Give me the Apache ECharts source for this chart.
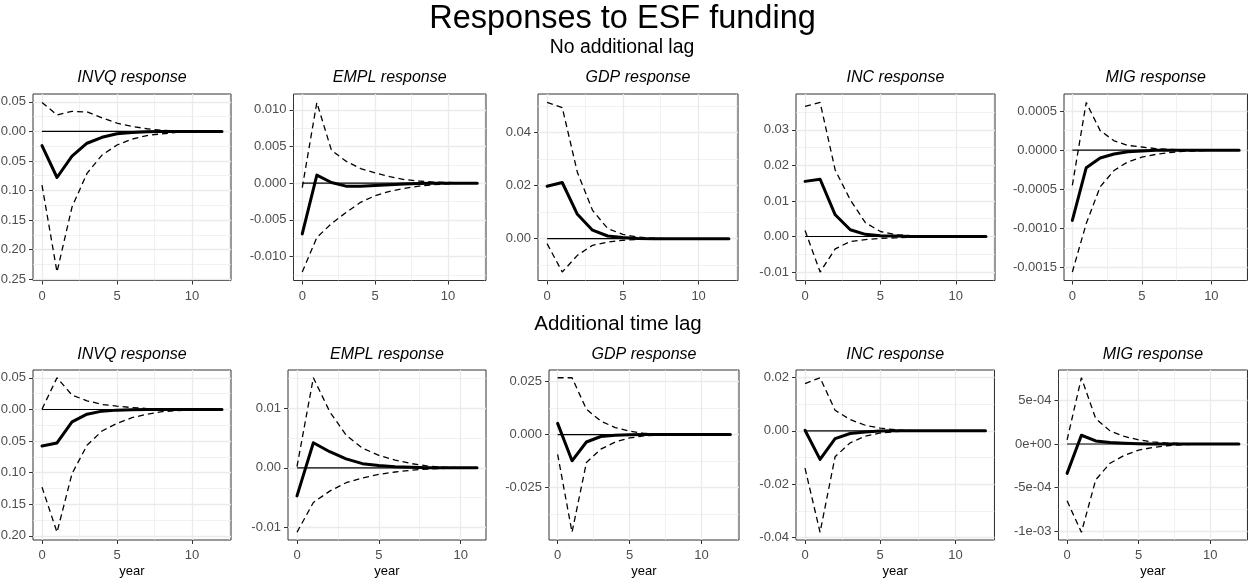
<!DOCTYPE html>
<html><head><meta charset="utf-8">
<script src="https://cdn.jsdelivr.net/npm/echarts@6/dist/echarts.min.js"></script>
<style>html,body{margin:0;padding:0;background:#fff}#c{width:1248px;height:581px}</style>
</head><body><div id="c"></div><script>
// ---------- data ----------
const years12 = [0,1,2,3,4,5,6,7,8,9,10,11,12];
const years11 = [0,1,2,3,4,5,6,7,8,9,10,11];
const xTicks = [0,5,10];

// No additional lag
const invqIrfA = [-0.024,-0.078,-0.042,-0.020,-0.010,-0.004,-0.0017,-0.0007,-0.0003,-0.0001,0,0,0];
const invqUpA  = [0.049,0.028,0.034,0.033,0.023,0.014,0.0085,0.0045,0.0017,0.0007,0.0003,0.0001,0];
const invqLoA  = [-0.091,-0.238,-0.128,-0.071,-0.040,-0.023,-0.013,-0.007,-0.004,-0.0017,-0.0007,-0.0003,-0.0001];
const emplIrfA = [-0.0069,0.0011,0.0001,-0.0004,-0.0004,-0.0003,-0.0002,-0.0001,-0.00005,0,0,0,0];
const emplUpA  = [-0.0006,0.0110,0.0045,0.0030,0.0020,0.0014,0.0009,0.0005,0.0003,0.00015,0.0001,0.00005,0];
const emplLoA  = [-0.0121,-0.0074,-0.0055,-0.0040,-0.0026,-0.0017,-0.0011,-0.0007,-0.0004,-0.0002,-0.0001,0,0];
const gdpIrfA  = [0.0198,0.0212,0.0092,0.0032,0.0010,0.0004,0.0001,0,0,0,0,0,0];
const gdpUpA   = [0.0514,0.0495,0.0250,0.0107,0.0038,0.0016,0.0006,0.0002,0,0,0,0,0];
const gdpLoA   = [-0.0019,-0.0126,-0.0063,-0.0025,-0.0013,-0.0006,-0.0003,-0.0001,0,0,0,0,0];
const incIrfA  = [0.0155,0.0161,0.0061,0.0019,0.0006,0.0002,0.0001,0,0,0,0,0,0];
const incUpA   = [0.0366,0.0377,0.0187,0.0103,0.0039,0.0014,0.0005,0.0002,0,0,0,0,0];
const incLoA   = [0.0017,-0.0100,-0.0035,-0.0014,-0.0009,-0.0005,-0.0004,-0.0002,0,0,0,0,0];
const migIrfA  = [-0.00090,-0.000225,-0.00010,-0.00005,-0.00002,-0.00001,0,0,0,0,0,0,0];
const migUpA   = [-0.00045,0.00061,0.00025,0.00012,0.00006,0.00004,0.00002,0.00001,0,0,0,0,0];
const migLoA   = [-0.00156,-0.00094,-0.00047,-0.00026,-0.00015,-0.00009,-0.000055,-0.00003,-0.000015,-0.00001,0,0,0];

// Additional time lag
const invqIrfB = [-0.0577,-0.053,-0.0196,-0.0074,-0.0026,-0.001,-0.0004,-0.0001,0,0,0,0,0];
const invqUpB  = [0.0005,0.0503,0.0228,0.0138,0.008,0.0053,0.003,0.0015,0.0008,0.0004,0.0002,0.0001,0];
const invqLoB  = [-0.1229,-0.1944,-0.1017,-0.0567,-0.034,-0.022,-0.013,-0.0074,-0.0035,-0.0017,-0.0008,-0.0004,-0.0002];
const emplIrfB = [-0.0047,0.0042,0.0027,0.0015,0.0007,0.0004,0.0002,0.0001,0,0,0,0];
const emplUpB  = [0.0002,0.0151,0.0094,0.0055,0.0033,0.0021,0.0013,0.0007,0.0003,0.0001,0,0];
const emplLoB  = [-0.0108,-0.0058,-0.0039,-0.0025,-0.0017,-0.0011,-0.0007,-0.0004,-0.0002,-0.0001,0,0];
const gdpIrfB  = [0.0053,-0.0124,-0.0035,-0.0009,-0.0003,-0.0001,0,0,0,0,0,0,0];
const gdpUpB   = [0.0269,0.0269,0.012,0.0064,0.0033,0.0016,0.0006,0.0002,0,0,0,0,0];
const gdpLoB   = [-0.0093,-0.0462,-0.0132,-0.0069,-0.0035,-0.0016,-0.0006,-0.0002,0,0,0,0,0];
const incIrfB  = [0.0002,-0.0107,-0.0029,-0.001,-0.0004,-0.0001,0,0,0,0,0,0,0];
const incUpB   = [0.0177,0.0199,0.0077,0.0042,0.0021,0.001,0.0004,0.0001,0,0,0,0,0];
const incLoB   = [-0.014,-0.038,-0.0097,-0.0045,-0.002,-0.0008,-0.0003,-0.0001,0,0,0,0,0];
const migIrfB  = [-0.000336,0.0001,0.000035,0.000016,0.000008,0.000003,0,0,0,0,0,0,0];
const migUpB   = [0.000047,0.000758,0.00029,0.00015,0.000086,0.000047,0.000023,0.00001,0.000005,0,0,0,0];
const migLoB   = [-0.00065,-0.00101,-0.00041,-0.00022,-0.00013,-0.00007,-0.00004,-0.00002,-0.00001,0,0,0,0];

// tick values and labels
const invqTicksA = [-0.25,-0.20,-0.15,-0.10,-0.05,0,0.05];
const invqLabelsA = ['-0.25','-0.20','-0.15','-0.10','-0.05','0.00','0.05'];
const emplTicksA = [-0.010,-0.005,0,0.005,0.010];
const emplLabelsA = ['-0.010','-0.005','0.000','0.005','0.010'];
const gdpTicksA = [0,0.02,0.04];
const gdpLabelsA = ['0.00','0.02','0.04'];
const incTicksA = [-0.01,0,0.01,0.02,0.03];
const incLabelsA = ['-0.01','0.00','0.01','0.02','0.03'];
const migTicksA = [-0.0015,-0.0010,-0.0005,0,0.0005];
const migLabelsA = ['-0.0015','-0.0010','-0.0005','0.0000','0.0005'];
const invqTicksB = [-0.20,-0.15,-0.10,-0.05,0,0.05];
const invqLabelsB = ['-0.20','-0.15','-0.10','-0.05','0.00','0.05'];
const emplTicksB = [-0.01,0,0.01];
const emplLabelsB = ['-0.01','0.00','0.01'];
const gdpTicksB = [-0.025,0,0.025];
const gdpLabelsB = ['-0.025','0.000','0.025'];
const incTicksB = [-0.04,-0.02,0,0.02];
const incLabelsB = ['-0.04','-0.02','0.00','0.02'];
const migTicksB = [-0.001,-0.0005,0,0.0005];
const migLabelsB = ['-1e-03','-5e-04','0e+00','5e-04'];

// ---------- layout ----------
const panels = [
  {t:'INVQ response', x:years12, irf:invqIrfA, up:invqUpA, lo:invqLoA, ticks:invqTicksA, labels:invqLabelsA, g:[33,94,198,186.5], ty:77, year:false},
  {t:'EMPL response', x:years12, irf:emplIrfA, up:emplUpA, lo:emplLoA, ticks:emplTicksA, labels:emplLabelsA, g:[293.5,94,192.5,186.5], ty:77, year:false},
  {t:'GDP response', x:years12, irf:gdpIrfA, up:gdpUpA, lo:gdpLoA, ticks:gdpTicksA, labels:gdpLabelsA, g:[538,94,200,186.5], ty:77, year:false},
  {t:'INC response', x:years12, irf:incIrfA, up:incUpA, lo:incLoA, ticks:incTicksA, labels:incLabelsA, g:[796,94,199,186.5], ty:77, year:false},
  {t:'MIG response', x:years12, irf:migIrfA, up:migUpA, lo:migLoA, ticks:migTicksA, labels:migLabelsA, g:[1064,94,183.5,186.5], ty:77, year:false},
  {t:'INVQ response', x:years12, irf:invqIrfB, up:invqUpB, lo:invqLoB, ticks:invqTicksB, labels:invqLabelsB, g:[33,370,198,170], ty:353, year:true},
  {t:'EMPL response', x:years11, irf:emplIrfB, up:emplUpB, lo:emplLoB, ticks:emplTicksB, labels:emplLabelsB, g:[288,370,198,170], ty:353, year:true},
  {t:'GDP response', x:years12, irf:gdpIrfB, up:gdpUpB, lo:gdpLoB, ticks:gdpTicksB, labels:gdpLabelsB, g:[549,370,190,170], ty:353, year:true},
  {t:'INC response', x:years12, irf:incIrfB, up:incUpB, lo:incLoB, ticks:incTicksB, labels:incLabelsB, g:[796,370,198.5,170], ty:353, year:true},
  {t:'MIG response', x:years12, irf:migIrfB, up:migUpB, lo:migLoB, ticks:migTicksB, labels:migLabelsB, g:[1058.5,370,189,170], ty:353, year:true}
];

const FONT = 'Liberation Sans, Arial, Helvetica, sans-serif';
const titles = [
  {text:'Responses to ESF funding', left:622.5, top:19, fs:32.5},
  {text:'No additional lag', left:622, top:48, fs:19.4},
  {text:'Additional time lag', left:618, top:324, fs:20.5}
].map(o => ({text:o.text, left:o.left, top:o.top, padding:0, textAlign:'center', textVerticalAlign:'middle',
  textStyle:{fontSize:o.fs, fontWeight:'normal', fontStyle:'normal', color:'#000', fontFamily:FONT}}));

const grids = [], xAxes = [], yAxes = [], series = [];
panels.forEach((p, i) => {
  const [gl, gt, gw, gh] = p.g;
  titles.push({text:p.t, left:gl + gw/2, top:p.ty + (p.year ? 1.5 : 0.5), padding:0, textAlign:'center', textVerticalAlign:'middle',
    textStyle:{fontSize:16, fontWeight:'normal', fontStyle:'italic', color:'#000', fontFamily:FONT}});
  grids.push({left:gl, top:gt, width:gw, height:gh, show:true, borderColor:'#333333', borderWidth:1,
    backgroundColor:'#fff', containLabel:false, outerBoundsMode:'none'});
  const xmin = Math.min(...p.x), xmax = Math.max(...p.x), xr = xmax - xmin;
  xAxes.push({
    type:'value', gridIndex:i, min:xmin - 0.05*xr, max:xmax + 0.05*xr, minInterval:5, maxInterval:5,
    axisLine:{show:false, onZero:false},
    axisTick:{show:true, length:4, customValues:xTicks, lineStyle:{color:'#333333', width:1}},
    axisLabel:{customValues:xTicks, margin:9, color:'#4D4D4D', fontSize:13, fontFamily:FONT, formatter:v => String(v)},
    splitLine:{show:true, lineStyle:{color:'#EBEBEB', width:1.3}},
    minorTick:{show:false, splitNumber:2},
    minorSplitLine:{show:true, lineStyle:{color:'#EBEBEB', width:0.7}},
    name:p.year ? 'year' : '', nameLocation:'middle', nameGap:25,
    nameTextStyle:{color:'#000', fontSize:13, fontFamily:FONT}
  });
  const all = p.irf.concat(p.up, p.lo, [0]);
  const ymin = Math.min(...all), ymax = Math.max(...all), yr = ymax - ymin;
  const step = +(p.ticks[1] - p.ticks[0]).toPrecision(6);
  yAxes.push({
    type:'value', gridIndex:i, min:ymin - 0.05*yr, max:ymax + 0.05*yr, minInterval:step, maxInterval:step,
    axisLine:{show:false, onZero:false},
    axisTick:{show:true, length:4, customValues:p.ticks, lineStyle:{color:'#333333', width:1}},
    axisLabel:{customValues:p.ticks, margin:7, color:'#4D4D4D', fontSize:13, fontFamily:FONT,
      formatter:v => { const k = p.ticks.findIndex(t => Math.abs(t - v) <= step*1e-6); return k >= 0 ? p.labels[k] : ''; }},
    splitLine:{show:true, lineStyle:{color:'#EBEBEB', width:1.3}},
    minorTick:{show:false, splitNumber:2},
    minorSplitLine:{show:true, lineStyle:{color:'#EBEBEB', width:0.7}}
  });
  const common = {type:'line', xAxisIndex:i, yAxisIndex:i, symbol:'none', silent:true, animation:false};
  series.push(Object.assign({}, common, {data:[[xmin,0],[xmax,0]], lineStyle:{color:'#000', width:1.2}, z:2}));
  series.push(Object.assign({}, common, {data:p.x.map((v,k)=>[v,p.up[k]]), lineStyle:{color:'#000', width:1.3, type:[6,4]}, z:3}));
  series.push(Object.assign({}, common, {data:p.x.map((v,k)=>[v,p.lo[k]]), lineStyle:{color:'#000', width:1.3, type:[6,4]}, z:3}));
  series.push(Object.assign({}, common, {data:p.x.map((v,k)=>[v,p.irf[k]]), lineStyle:{color:'#000', width:3, join:'round', cap:'round'}, z:4}));
});

const chart = echarts.init(document.getElementById('c'), null, {renderer:'canvas'});
chart.setOption({
  animation:false,
  backgroundColor:'#fff',
  textStyle:{fontFamily:FONT},
  title:titles, grid:grids, xAxis:xAxes, yAxis:yAxes, series:series
});
</script></body></html>
